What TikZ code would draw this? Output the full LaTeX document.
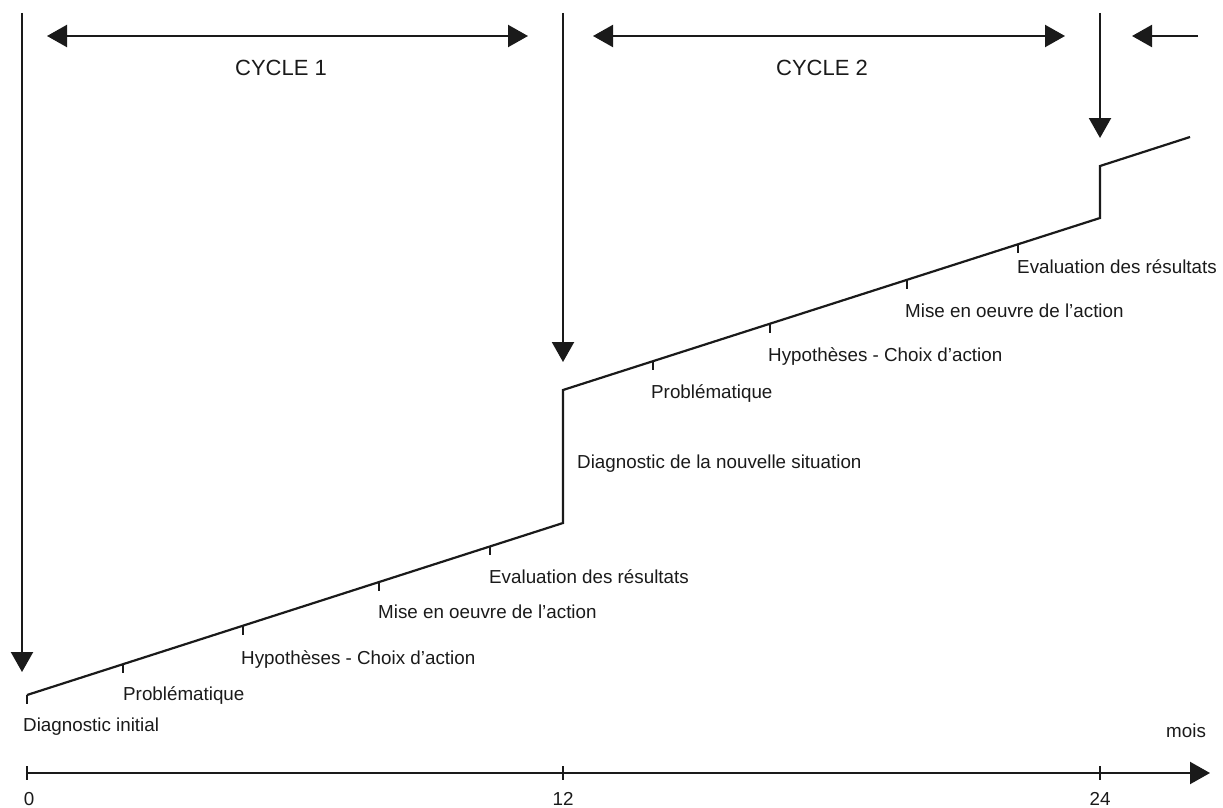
\documentclass[tikz,border=0pt]{standalone}
\usepackage{fontspec}
\setmainfont{Liberation Sans}
\usetikzlibrary{arrows.meta}
\definecolor{ink}{HTML}{1A1A1A}
\begin{document}
\begin{tikzpicture}[x=1pt,y=-1pt,
  stroke/.style={line width=2.2pt, draw=ink, line join=miter},
  downarrow/.style={stroke, -{Triangle[length=20pt,width=22pt]}},
  twoway/.style={stroke, {Triangle[length=20pt,width=22pt]}-{Triangle[length=20pt,width=22pt]}},
  ticks/.style={line width=2.2pt, draw=ink},
  lbl/.style={anchor=base west, inner sep=0pt, text=ink, font=\fontsize{18.8}{22}\selectfont},
  num/.style={anchor=base, inner sep=0pt, text=ink, font=\fontsize{18.8}{22}\selectfont},
  cyc/.style={anchor=base, inner sep=0pt, text=ink, font=\fontsize{22}{26}\selectfont}]
\useasboundingbox (0,0) rectangle (1223,808);

% progression line
\coordinate (p0) at (27,695);
\coordinate (p1) at (563,523);
\coordinate (p2) at (563,390);
\coordinate (p3) at (1100,218);
\coordinate (p4) at (1100,166);
\coordinate (p5) at (1190,137);
\draw[stroke] (p0) -- (p1) -- (p2) -- (p3) -- (p4) -- (p5);

% step marks on the line
\foreach \x/\y [count=\i] in {27/695, 123/664.2, 243/625.7, 379/582.0, 490/546.4,
                              653/361.1, 770/323.6, 907/279.6, 1018/244.0}{
  \coordinate (t\i) at (\x,\y);
  \draw[ticks] (t\i) -- ++(0,9);
}

% step labels
\node[lbl] (l1) at (23,731) {Diagnostic initial};
\node[lbl] (l2) at (123,700) {Problématique};
\node[lbl] (l3) at (241,664) {Hypothèses - Choix d’action};
\node[lbl] (l4) at (378,618) {Mise en oeuvre de l’action};
\node[lbl] (l5) at (489,583) {Evaluation des résultats};
\node[lbl] (l6) at (577,468) {Diagnostic de la nouvelle situation};
\node[lbl] (l7) at (651,398) {Problématique};
\node[lbl] (l8) at (768,361) {Hypothèses - Choix d’action};
\node[lbl] (l9) at (905,317) {Mise en oeuvre de l’action};
\node[lbl] (l10) at (1017,273) {Evaluation des résultats};

% diagnosis arrows coming down
\coordinate (d0s) at (22,13);   \coordinate (d0e) at (22,672);
\coordinate (d1s) at (563,13);  \coordinate (d1e) at (563,362);
\coordinate (d2s) at (1100,13); \coordinate (d2e) at (1100,138);
\draw[downarrow] (d0s) -- (d0e);
\draw[downarrow] (d1s) -- (d1e);
\draw[downarrow] (d2s) -- (d2e);

% cycle spans
\coordinate (c1a) at (47,36);   \coordinate (c1b) at (528,36);
\coordinate (c2a) at (593,36);  \coordinate (c2b) at (1065,36);
\coordinate (c3a) at (1198,36); \coordinate (c3b) at (1132,36);
\draw[twoway] (c1a) -- (c1b);
\draw[twoway] (c2a) -- (c2b);
\draw[downarrow] (c3a) -- (c3b);
\node[cyc] (cy1) at (281,76) {CYCLE 1};
\node[cyc] (cy2) at (822,76) {CYCLE 2};

% time axis
\coordinate (ax0) at (27,773);
\coordinate (ax1) at (1210,773);
\draw[downarrow] (ax0) -- (ax1);
\foreach \x in {27, 563, 1100}{
  \draw[ticks] (\x,766) -- (\x,780);
}
\node[num] (n0) at (29,805) {0};
\node[num] (n12) at (563,805) {12};
\node[num] (n24) at (1100,805) {24};
\node[lbl] (mois) at (1166,737) {mois};
\end{tikzpicture}
\end{document}
